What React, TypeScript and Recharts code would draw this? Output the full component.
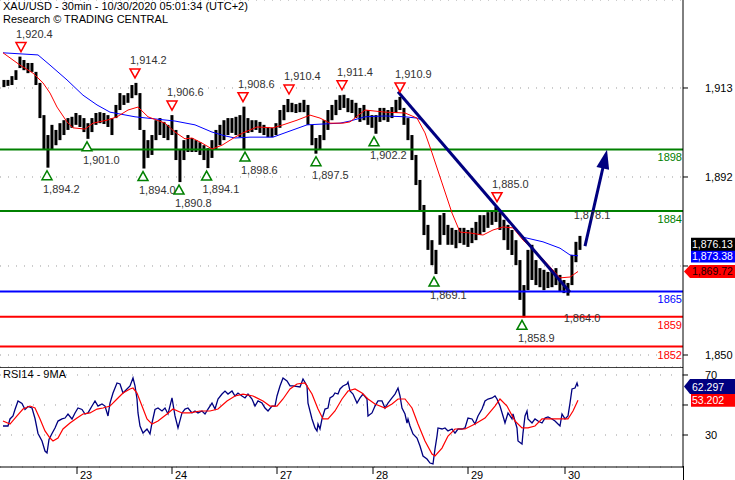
import React from 'react';
import { ComposedChart, Bar, Line, XAxis, YAxis, CartesianGrid, ReferenceLine, ReferenceDot } from 'recharts';

const FONT = '"Liberation Sans", Arial, sans-serif';
const X_MAX = 341.5;
const P_MIN = 1847.17;
const P_MAX = 1933.76;
const R_MIN = 8.67;
const R_MAX = 75.33;

// [bar index (30-min), low, high]
const priceBars: [number, number, number][] = [
  [2,1913.2,1914.9],[4,1913.5,1914.9],[6,1913.7,1915.8],[8,1914.9,1917.2],[10,1917.7,1920.4],[12,1917.2,1919.6],[14,1916.5,1918.9],[16,1916.8,1918.9],[18,1913.7,1916.8],[20,1905.9,1914.2],[22,1898.4,1906.6],[24,1894.2,1901.9],[26,1898.4,1904.3],[28,1899.5,1903.1],[30,1900.7,1904.7],[32,1901.9,1905.4],[34,1903.1,1905.9],[36,1903.6,1906.2],[38,1904.3,1907.1],[40,1903.8,1906.6],[42,1902.6,1905.9],[44,1901.0,1904.7],[46,1902.6,1905.9],[48,1904.3,1907.1],[50,1904.7,1907.3],[52,1904.5,1907.1],[54,1903.8,1906.6],[56,1901.9,1905.9],[58,1905.9,1909.0],[60,1907.8,1911.8],[62,1909.0,1911.3],[64,1909.5,1911.8],[66,1910.6,1913.7],[68,1911.3,1914.2],[70,1903.1,1911.8],[72,1894.0,1903.1],[74,1896.5,1900.7],[76,1897.2,1901.9],[78,1900.7,1905.4],[80,1901.9,1905.9],[82,1901.2,1905.0],[84,1900.7,1904.3],[86,1901.9,1906.6],[88,1896.0,1903.1],[90,1890.8,1898.4],[92,1896.0,1900.7],[94,1897.9,1901.9],[96,1897.9,1901.2],[98,1897.9,1900.7],[100,1897.2,1900.2],[102,1896.0,1899.5],[104,1894.1,1898.8],[106,1896.5,1900.7],[108,1898.4,1903.1],[110,1899.5,1904.3],[112,1900.7,1905.4],[114,1901.9,1905.9],[116,1902.4,1905.9],[118,1901.9,1906.2],[120,1901.4,1906.6],[122,1898.6,1908.6],[124,1902.4,1905.9],[126,1902.6,1905.4],[128,1903.1,1905.4],[130,1902.4,1905.0],[132,1901.9,1904.3],[134,1901.4,1903.8],[136,1901.4,1903.6],[138,1901.9,1904.7],[140,1903.6,1907.8],[142,1905.4,1909.0],[144,1907.3,1910.4],[146,1907.3,1909.5],[148,1907.1,1909.2],[150,1907.3,1909.5],[152,1907.3,1910.2],[154,1904.3,1909.0],[156,1899.5,1904.3],[158,1897.5,1901.2],[160,1898.4,1901.9],[162,1900.7,1905.4],[164,1903.1,1907.8],[166,1905.4,1909.0],[168,1906.6,1910.2],[170,1907.8,1911.3],[172,1908.3,1911.4],[174,1907.3,1910.6],[176,1907.1,1910.2],[178,1905.9,1909.5],[180,1905.0,1908.3],[182,1905.4,1909.0],[184,1904.3,1907.8],[186,1903.6,1906.6],[188,1902.2,1906.6],[190,1905.0,1908.3],[192,1905.4,1908.3],[194,1905.0,1907.8],[196,1905.9,1908.5],[198,1907.1,1910.2],[200,1907.8,1910.9],[202,1904.3,1908.3],[204,1900.7,1905.9],[206,1896.0,1901.9],[208,1890.1,1897.2],[210,1884.2,1891.3],[212,1878.3,1885.4],[214,1874.8,1880.7],[216,1871.2,1877.1],[218,1869.1,1874.8],[220,1876.0,1883.0],[222,1878.3,1883.5],[224,1876.0,1880.7],[226,1876.0,1880.0],[228,1875.2,1879.5],[230,1876.4,1880.0],[232,1876.0,1880.0],[234,1875.5,1879.5],[236,1876.4,1880.0],[238,1877.1,1881.4],[240,1878.3,1883.0],[242,1879.0,1883.0],[244,1880.0,1883.7],[246,1880.7,1884.2],[248,1881.4,1885.0],[250,1879.5,1883.7],[252,1877.1,1881.9],[254,1874.8,1880.7],[256,1873.6,1879.5],[258,1871.2,1877.1],[260,1863.0,1872.4],[262,1858.9,1866.5],[264,1865.3,1874.8],[266,1867.7,1876.0],[268,1866.5,1872.4],[270,1866.0,1870.5],[272,1865.3,1870.1],[274,1865.8,1869.6],[276,1866.0,1870.1],[278,1866.5,1870.5],[280,1864.9,1868.9],[282,1864.6,1867.7],[284,1864.0,1867.0],[286,1866.5,1873.6],[288,1871.9,1876.7],[290,1874.8,1878.1]
];

const redMA: [number, number][] = [
  [1.5,1921.3],[10,1918.4],[16.5,1916.5],[21.5,1914.2],[25,1911.8],[28.5,1908.5],[33.5,1905.0],[36.5,1903.6],[42.5,1903.3],[46.5,1904.7],[53.5,1905.4],[58.5,1906.2],[64,1907.8],[69,1908.5],[74,1906.2],[82.5,1904.7],[87.5,1902.6],[92.5,1901.0],[96,1901.2],[101,1900.0],[106,1898.6],[111,1899.5],[117.5,1901.4],[121.5,1902.4],[128.5,1903.8],[136.5,1903.6],[141.5,1904.3],[148.5,1905.4],[155,1906.6],[160,1905.9],[165,1904.7],[171.5,1904.7],[175,1905.0],[182.5,1907.8],[192.5,1907.3],[202.5,1907.1],[208.5,1905.9],[212.5,1902.4],[216,1897.7],[221,1890.6],[226,1883.5],[230,1879.0],[235,1878.8],[241.5,1878.3],[246.5,1879.5],[251.5,1880.2],[256.5,1880.0],[261.5,1877.1],[268.5,1874.1],[275,1870.8],[280,1868.2],[285,1868.4],[289,1869.7]
];

const blueMA1: [number, number][] = [
  [1.5,1921.3],[19,1920.8],[25,1918.4],[33.5,1914.9],[41.5,1911.3],[48.5,1909.0],[55,1907.3],[67.5,1906.2],[77.5,1905.7],[87.5,1905.2],[97.5,1904.3],[106,1902.6],[112.5,1901.7],[117.5,1901.2],[125,1901.4],[136.5,1901.4],[143.5,1902.6],[153.5,1904.3],[161.5,1904.5],[170,1904.7],[175,1905.2],[182.5,1906.2],[192.5,1906.4],[202.5,1906.2],[208.5,1905.9],[211,1905.4]
];
const blueMA2: [number, number][] = [
  [261.5,1877.8],[271.5,1876.7],[280,1875.2],[285,1873.6],[289,1873.4]
];

const rsiLine: [number, number][] = [
  [1.5,36],[4,36],[5,40.7],[6.5,42.7],[7.5,47],[9,52.7],[11,51],[12.5,47],[14,49],[16,48],[17.5,41],[19,31],[21,26],[22.5,19.3],[23.5,18],[24.5,27],[26,31],[27.5,34.7],[29,39.3],[31,40.7],[32.5,41.3],[34,44],[36,40.7],[37.5,44.7],[39,48],[41,47],[42.5,44],[44,44.7],[46,49.3],[47.5,52.7],[49,49.3],[51,50.7],[52.5,49.3],[54,42.7],[55,51.3],[56.5,58],[58.5,64.7],[60,64],[61.5,58],[63.5,60.7],[65,62.7],[66.5,68],[67.5,62.7],[68.5,54],[69,44.7],[70,36],[71.5,31.3],[73.5,34],[75,30.7],[76,38],[77.5,47],[79,48],[81,46],[82.5,48],[84,44],[86,54.7],[87.5,42.7],[89,34.7],[91,44.7],[92.5,47.3],[94,48],[96,44.7],[97.5,46],[99,44.7],[101,46],[102.5,44],[104,47.3],[106,51.3],[107.5,47.3],[109,54],[111,57.3],[112.5,59.3],[114,57.3],[116,59.3],[117.5,56],[119,58],[121,56],[122.5,54.7],[124,57.3],[126,54],[127.5,49.3],[129,52.7],[131,51.3],[132.5,48],[134,46],[136,49.3],[137.5,49.3],[138.5,56],[140,62.7],[141.5,68],[143.5,66],[145,62.7],[146.5,62.7],[150,62],[151.5,67.3],[153.5,62.7],[154,51.3],[156,40.7],[157.5,34.7],[158.5,32.7],[159,37.3],[160,34],[161,40.7],[162.5,47.3],[164,48],[165,54.7],[166.5,56],[167.5,58],[169,57.3],[170,60.7],[171.5,62.7],[173.5,64],[174,65.3],[175,59.3],[176.5,57.3],[178.5,51.3],[180,54.7],[181.5,57.3],[183.5,54],[184,42.7],[186,44.7],[187.5,49.3],[189,52.7],[191,52.7],[192.5,48],[194,51.3],[196,54.7],[197.5,57.3],[199,61.3],[200,56],[201,48],[202.5,44],[203.5,38],[204,40.7],[205,36],[206.5,30.7],[208.5,28],[210,22.7],[211.5,16],[213.5,14],[215,11.3],[216.5,10.7],[217.5,20.7],[218.5,29.3],[219,34.7],[221,34],[222.5,34.7],[224,32.7],[226,34],[227.5,31.3],[229,34],[231,34],[232.5,34.7],[234,41.3],[236,40.7],[237.5,37.3],[239,42.7],[241,47.3],[242.5,52.7],[244,54],[246,54.7],[247.5,56],[248.5,54],[250,49.3],[251.5,42.7],[252.5,38],[254,44.7],[256,40.7],[256.5,44],[258.5,34.7],[259,26],[261,24],[261.5,31.3],[262.5,42.7],[263.5,46],[264,40.7],[266,38],[267.5,40.7],[269,39.3],[271,38],[272.5,41.3],[274,42],[276,40.7],[277.5,39.3],[279,37.3],[280,36],[281,44],[282.5,40.7],[284,42.7],[285,51.3],[286,60.7],[287.5,61.3],[288.5,64.7],[289,62.3]
];

const rsiMA: [number, number][] = [
  [1.5,39.3],[5,37.3],[8.5,42.7],[11.5,47.3],[15,49.3],[17.5,48],[20,40.7],[22.5,32.7],[25,28],[26.5,26],[29,28],[31.5,34],[35,38],[38.5,41.3],[41.5,44],[45,44.7],[48.5,47.3],[51.5,48],[55,49.3],[58.5,54],[61.5,58],[65,60.7],[66.5,61.3],[68.5,58],[71,49.3],[73.5,40.7],[76,37.3],[79,39.3],[83.5,44],[86.5,47.3],[91,44.7],[95,44.7],[100,46],[105,46],[109,47.3],[113.5,52.7],[117.5,56],[121.5,57.3],[126.5,56],[131.5,52.7],[135,49.3],[138.5,49.3],[141.5,54],[145,60.7],[148.5,64],[152.5,64.7],[156,57.3],[159,47.3],[161.5,40.7],[164,40.7],[167.5,46],[171,54],[174,59.3],[177.5,60.7],[181,58],[184,54],[187.5,50.7],[192.5,48],[196,50.7],[199,54],[202.5,54],[206,48],[209,37.3],[212.5,26],[216,17.3],[217.5,16],[221,21.3],[224,29.3],[227.5,34],[232.5,34],[237.5,37.3],[242.5,41.3],[247.5,49.3],[250,54],[253.5,49.3],[257.5,39.3],[261,34.7],[264,34.7],[267.5,36],[271,40.7],[276,40.7],[281,40.7],[284,40.7],[286.5,46],[289,53.2]
];

const highIdx = [10.5, 67.5, 86, 121.5, 144.5, 171, 200, 248.5];
const highVal = [1920.4, 1914.2, 1906.6, 1908.6, 1910.4, 1911.4, 1910.9, 1885.0];
const lowIdx = [23.5, 43.5, 71.5, 89.5, 103.3, 122.5, 158, 187, 217, 261];
const lowVal = [1894.2, 1901.0, 1894.0, 1890.8, 1894.1, 1898.6, 1897.5, 1902.2, 1869.1, 1858.9];
const noteIdx = [291, 296];
const notePrice = [1858.8, 1883.0];
const noteText = ['1,864.0', '1,878.1'];

const levelVal = [1898.5, 1884, 1865, 1859, 1852];
const levelText = ['1898', '1884', '1865', '1859', '1852'];
const levelColor = ['#008000', '#008000', '#0000ff', '#ff0000', '#ff0000'];

const trendFrom = [199, 1912.1];
const trendTo = [285, 1864.8];
const arrowFrom = [292.5, 1875.7];
const arrowTo = [303.5, 1898.4];

const priceTicks = [1850, 1871, 1892, 1913];
const priceTickShown = ['1,850', '', '1,892', '1,913'];
const rsiTicks = [30, 50, 70];
const rsiTickShown = ['30', '', '70'];
const dayIdx = [38.5, 86, 138.5, 186.5, 234, 282.5];
const dayLabel = ['23', '24', '27', '28', '29', '30'];

const lastClose = 1876.13;
const lastBlue = 1873.38;
const lastRed = 1869.72;
const lastRsi = 62.297;
const lastRsiMA = 53.202;

function buildRows(parts: { key: string; pts: any[] }[]) {
  const m = new Map<number, any>();
  parts.forEach(({ key, pts }) => {
    pts.forEach((p: any) => {
      const i = p[0];
      let r = m.get(i);
      if (!r) { r = { i }; m.set(i, r); }
      r[key] = p.length === 3 ? [p[1], p[2]] : p[1];
    });
  });
  return Array.from(m.values()).sort((a, b) => a.i - b.i);
}

const toPts = (arr: [number, number][]) => arr.map(([i, v]) => ({ i, v }));

const barRows = buildRows([{ key: 'range', pts: priceBars }]);
const redRows = toPts(redMA);
const blueRowsA = toPts(blueMA1);
const blueRowsB = toPts(blueMA2);
const rsiRows = buildRows([
  { key: 'rsi', pts: rsiLine },
  { key: 'ma', pts: rsiMA },
]);

const fmt1 = (v: number) => v.toLocaleString('en-US', { minimumFractionDigits: 1, maximumFractionDigits: 1 });
const fmt2 = (v: number) => v.toLocaleString('en-US', { minimumFractionDigits: 2, maximumFractionDigits: 2 });

const txt = { fontFamily: FONT, fontSize: 11 } as const;
const tagTxt = { fontFamily: FONT, fontSize: 10.5 } as const;

const PriceBarShape = (p: any) => {
  if (!p.payload || !p.payload.range) return null;
  const { x, y, width, height } = p;
  if (![x, y, width, height].every((v: any) => Number.isFinite(v))) return null;
  const cx = x + width / 2;
  const top = Math.min(y, y + height);
  const h = Math.max(Math.abs(height), 1);
  return <rect x={cx - 1.5} y={top} width={3} height={h} fill="#000" />;
};

const HighMark = ({ cx, cy, label }: any) => (
  <g>
    <polygon points={`${cx - 5},${cy - 14} ${cx + 5},${cy - 14} ${cx},${cy - 5}`} fill="#fff" stroke="#ff0000" strokeWidth={1.5} />
    <text x={cx - 5} y={cy - 19} style={txt} fill="#333">{label}</text>
  </g>
);

const LowMark = ({ cx, cy, label }: any) => (
  <g>
    <polygon points={`${cx - 5},${cy + 12} ${cx + 5},${cy + 12} ${cx},${cy + 3}`} fill="#fff" stroke="#008000" strokeWidth={1.5} />
    <text x={cx - 4} y={cy + 25} style={txt} fill="#333">{label}</text>
  </g>
);

const ArrowShape = (p: any) => {
  const { x1, y1, x2, y2 } = p;
  if (![x1, y1, x2, y2].every((v: any) => Number.isFinite(v))) return null;
  const dx = x2 - x1, dy = y2 - y1;
  const len = Math.sqrt(dx * dx + dy * dy) || 1;
  const ux = dx / len, uy = dy / len;
  const hl = 19, hw = 6.5;
  const bx = x2 - ux * hl, by = y2 - uy * hl;
  const px = -uy, py = ux;
  return (
    <g>
      <line x1={x1} y1={y1} x2={bx + ux * 3} y2={by + uy * 3} stroke="#000080" strokeWidth={3} />
      <polygon points={`${x2},${y2} ${bx + px * hw},${by + py * hw} ${bx - px * hw},${by - py * hw}`} fill="#000080" />
    </g>
  );
};

const renderPriceTick = (p: any) => {
  const k = priceTicks.indexOf(p.payload.value);
  return (
    <g>
      <line x1={p.x} y1={p.y} x2={p.x + 5} y2={p.y} stroke="#000" />
      {k >= 0 && priceTickShown[k] ? (
        <text x={p.x + 22} y={p.y + 4} style={txt} fill="#000">{priceTickShown[k]}</text>
      ) : null}
    </g>
  );
};

const renderRsiTick = (p: any) => {
  const k = rsiTicks.indexOf(p.payload.value);
  return (
    <g>
      <line x1={p.x} y1={p.y} x2={p.x + 5} y2={p.y} stroke="#000" />
      {k >= 0 && rsiTickShown[k] ? (
        <text x={p.x + 22} y={p.y + 4} style={txt} fill="#000">{rsiTickShown[k]}</text>
      ) : null}
    </g>
  );
};

const renderDayTick = (p: any) => {
  const k = dayIdx.indexOf(p.payload.value);
  return (
    <g>
      <line x1={p.x} y1={p.y} x2={p.x} y2={p.y + 7} stroke="#000" />
      <text x={p.x + 3} y={p.y + 12} style={txt} fill="#000">{k >= 0 ? dayLabel[k] : ''}</text>
    </g>
  );
};

const Tag = ({ cx, cy, label, bg, color, arrow, h = 13 }: any) => {
  const half = h / 2;
  const pts = arrow
    ? `${cx + 1},${cy} ${cx + 7},${cy - half} ${cx + 60},${cy - half} ${cx + 60},${cy + half} ${cx + 7},${cy + half}`
    : `${cx + 8},${cy - half} ${cx + 60},${cy - half} ${cx + 60},${cy + half} ${cx + 8},${cy + half}`;
  return (
    <g>
      <polygon points={pts} fill={bg} />
      <text x={cx + 9} y={cy + 4} style={tagTxt} fill={color}>{label}</text>
    </g>
  );
};

export default function App() {
  return (
    <div style={{ position: 'absolute', left: 0, top: 0, width: 735, height: 480, background: '#fff', overflow: 'hidden' }}>
      <div style={{ position: 'absolute', left: 0, top: 0 }}>
        <ComposedChart width={735} height={367} data={barRows} margin={{ top: 0, right: 0, bottom: 0, left: 0 }}>
          <CartesianGrid vertical={false} stroke="#9a9a9a" strokeDasharray="1 7" />
          <XAxis type="number" dataKey="i" domain={[0, X_MAX]} allowDataOverflow hide />
          <YAxis
            orientation="right"
            width={52}
            domain={[P_MIN, P_MAX]}
            allowDataOverflow
            ticks={priceTicks}
            interval={0}
            tickSize={0}
            tickMargin={0}
            tickLine={false}
            tick={renderPriceTick}
            axisLine={{ stroke: '#000' }}
          />
          {levelVal.map((v, k) => (
            <ReferenceLine key={'lv' + k} y={v} stroke={levelColor[k]} strokeWidth={2} />
          ))}
          <Line data={blueRowsA} dataKey="v" stroke="#0000ff" strokeWidth={1} dot={false} activeDot={false} isAnimationActive={false} />
          <Line data={blueRowsB} dataKey="v" stroke="#0000ff" strokeWidth={1} dot={false} activeDot={false} isAnimationActive={false} />
          <Bar dataKey="range" fill="#000" shape={PriceBarShape} isAnimationActive={false} barSize={3} />
          <Line data={redRows} dataKey="v" stroke="#ff0000" strokeWidth={1} dot={false} activeDot={false} isAnimationActive={false} />
          <ReferenceLine
            segment={[{ x: trendFrom[0], y: trendFrom[1] }, { x: trendTo[0], y: trendTo[1] }]}
            stroke="#000080"
            strokeWidth={3}
            ifOverflow="visible"
          />
          <ReferenceLine
            segment={[{ x: arrowFrom[0], y: arrowFrom[1] }, { x: arrowTo[0], y: arrowTo[1] }]}
            ifOverflow="visible"
            shape={(p: any) => <ArrowShape {...p} />}
          />
          {levelVal.map((v, k) => (
            <ReferenceDot
              key={'ll' + k}
              x={X_MAX}
              y={v}
              ifOverflow="visible"
              shape={(p: any) => (
                <text x={p.cx - 1} y={p.cy + 12} textAnchor="end" style={txt} fill={levelColor[k]}>{levelText[k]}</text>
              )}
            />
          ))}
          {highIdx.map((ix, k) => (
            <ReferenceDot key={'h' + k} x={ix} y={highVal[k]} ifOverflow="visible"
              shape={(p: any) => <HighMark cx={p.cx} cy={p.cy} label={fmt1(highVal[k])} />} />
          ))}
          {lowIdx.map((ix, k) => (
            <ReferenceDot key={'l' + k} x={ix} y={lowVal[k]} ifOverflow="visible"
              shape={(p: any) => <LowMark cx={p.cx} cy={p.cy} label={fmt1(lowVal[k])} />} />
          ))}
          {noteIdx.map((ix, k) => (
            <ReferenceDot key={'n' + k} x={ix} y={notePrice[k]} ifOverflow="visible"
              shape={(p: any) => (
                <text x={p.cx} y={p.cy + 4} textAnchor="middle" style={txt} fill="#333">{noteText[k]}</text>
              )} />
          ))}
          <ReferenceDot x={X_MAX} y={lastRed} ifOverflow="visible"
            shape={(p: any) => <Tag cx={p.cx} cy={p.cy} label={fmt2(lastRed)} bg="#ff0000" color="#1a0000" arrow />} />
          <ReferenceDot x={X_MAX} y={lastBlue} ifOverflow="visible"
            shape={(p: any) => <Tag cx={p.cx} cy={p.cy} label={fmt2(lastBlue)} bg="#0000ff" color="#fff" />} />
          <ReferenceDot x={X_MAX} y={lastClose} ifOverflow="visible"
            shape={(p: any) => <Tag cx={p.cx} cy={p.cy} label={fmt2(lastClose)} bg="#000" color="#fff" />} />
        </ComposedChart>
      </div>
      <div style={{ position: 'absolute', left: 0, top: 367 }}>
        <ComposedChart width={735} height={113} data={rsiRows} margin={{ top: 0, right: 0, bottom: 0, left: 0 }}>
          <CartesianGrid vertical={false} stroke="#9a9a9a" strokeDasharray="1 10" />
          <XAxis
            type="number"
            dataKey="i"
            domain={[0, X_MAX]}
            allowDataOverflow
            ticks={dayIdx}
            interval={0}
            height={13}
            tickSize={0}
            tickMargin={0}
            tickLine={false}
            tick={renderDayTick}
            axisLine={{ stroke: '#000' }}
          />
          <YAxis
            orientation="right"
            width={52}
            domain={[R_MIN, R_MAX]}
            allowDataOverflow
            ticks={rsiTicks}
            interval={0}
            tickSize={0}
            tickMargin={0}
            tickLine={false}
            tick={renderRsiTick}
            axisLine={{ stroke: '#000' }}
          />
          <ReferenceLine y={R_MAX} stroke="#000" strokeWidth={1.5} />
          <Line dataKey="rsi" stroke="#000080" strokeWidth={1.3} dot={false} activeDot={false} connectNulls isAnimationActive={false} />
          <Line dataKey="ma" stroke="#ff0000" strokeWidth={1.2} dot={false} activeDot={false} connectNulls isAnimationActive={false} />
          <ReferenceDot x={X_MAX} y={lastRsiMA} ifOverflow="visible"
            shape={(p: any) => <Tag cx={p.cx} cy={p.cy} label={lastRsiMA.toFixed(3)} bg="#ff0000" color="#fff" />} />
          <ReferenceDot x={X_MAX} y={lastRsi} ifOverflow="visible"
            shape={(p: any) => <Tag cx={p.cx} cy={p.cy} label={lastRsi.toFixed(3)} bg="#000080" color="#fff" arrow h={15} />} />
        </ComposedChart>
      </div>
      <div style={{ position: 'absolute', left: 683, top: 466, width: 1, height: 14, background: '#000' }} />
      <div style={{ position: 'absolute', left: 3, top: 0, fontFamily: FONT, fontSize: 11, lineHeight: '13px', color: '#000', whiteSpace: 'nowrap' }}>
        XAU/USD - 30min - 10/30/2020 05:01:34 (UTC+2)
      </div>
      <div style={{ position: 'absolute', left: 3, top: 13, fontFamily: FONT, fontSize: 11, lineHeight: '13px', color: '#000', whiteSpace: 'nowrap' }}>
        Research © TRADING CENTRAL
      </div>
      <div style={{ position: 'absolute', left: 3, top: 368, fontFamily: FONT, fontSize: 11, lineHeight: '13px', color: '#000', whiteSpace: 'nowrap' }}>
        RSI14 - 9MA
      </div>
    </div>
  );
}
